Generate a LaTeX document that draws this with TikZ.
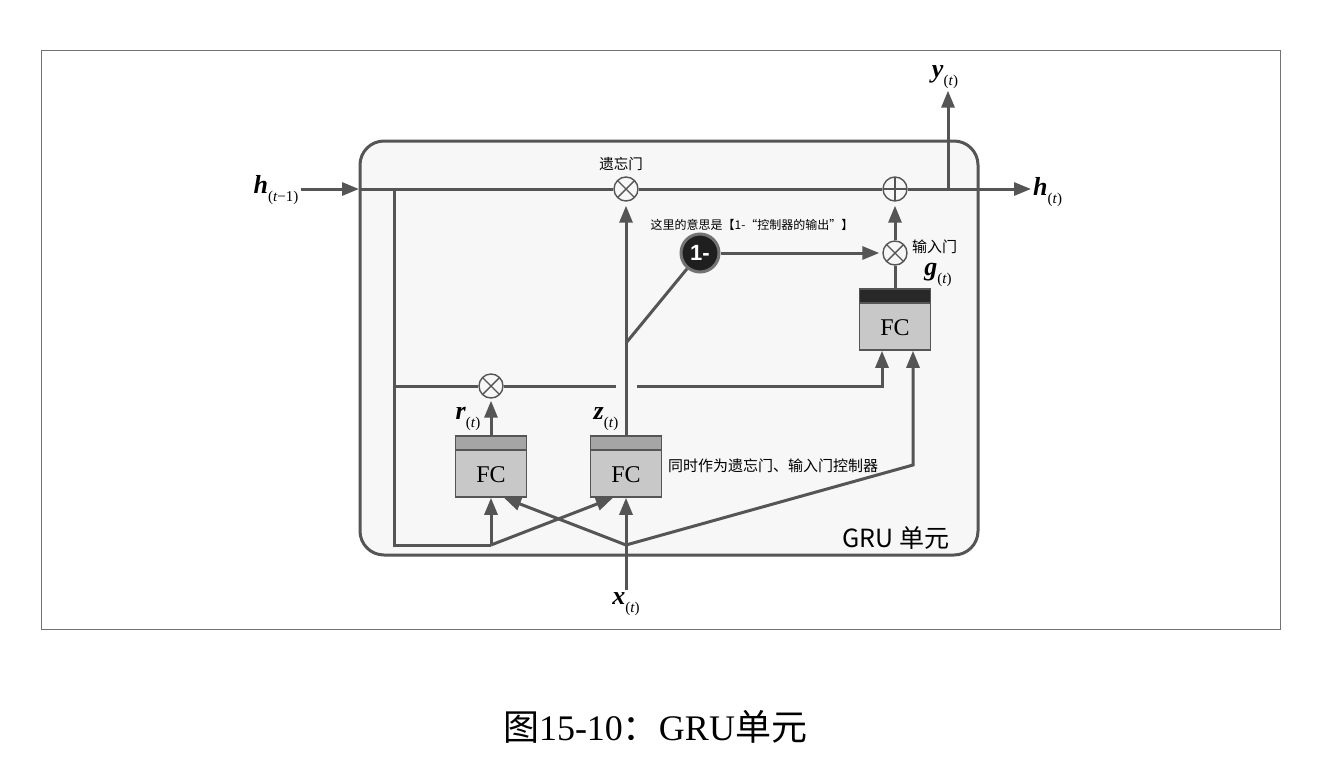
\documentclass[tikz,border=0pt]{standalone}
\usepackage{fontspec}
\setmainfont{Liberation Serif}
\setsansfont{Liberation Sans}
\setmonofont{Liberation Mono}
\newfontfamily\cjk{Noto Sans CJK SC}
\usetikzlibrary{arrows.meta}
\definecolor{wirec}{RGB}{85,85,85}
\definecolor{cellbg}{RGB}{247,247,247}
\definecolor{fcbody}{RGB}{200,200,200}
\definecolor{fchead}{RGB}{165,165,165}
\definecolor{fcdark}{RGB}{40,40,40}
\newcommand{\seqlab}[2]{\textbf{\textit{#1}}\raisebox{-0.3em}{\fontsize{15}{15}\selectfont(#2)}}
\tikzset{wire/.style={draw=wirec, line width=3pt},
  >={Triangle[length=17pt,width=13pt]},
  seq/.style={inner sep=2pt, font=\fontsize{26}{26}\selectfont},
  note/.style={inner sep=0, font=\cjk\fontsize{15}{15}\selectfont},
  fc/.style={draw=wirec, line width=1.6pt, fill=fcbody, minimum width=71pt, inner sep=0,
    text height=46pt, text depth=15pt, font=\fontsize{24}{24}\selectfont,
    path picture={\fill[#1] (path picture bounding box.north west) rectangle ([yshift=-14pt]path picture bounding box.north east);
      \draw[wirec, line width=1.6pt] ([yshift=-14pt]path picture bounding box.north west) -- ([yshift=-14pt]path picture bounding box.north east);}},
  mul/.style={circle, draw=wirec, line width=1.4pt, fill=cellbg, minimum size=24pt, inner sep=0,
    path picture={\draw[wirec, line width=1.4pt] (path picture bounding box.north west) -- (path picture bounding box.south east)
      (path picture bounding box.north east) -- (path picture bounding box.south west);}},
  plus/.style={circle, draw=wirec, line width=1.4pt, fill=cellbg, minimum size=24pt, inner sep=0,
    path picture={\draw[wirec, line width=1.4pt] (path picture bounding box.north) -- (path picture bounding box.south)
      (path picture bounding box.east) -- (path picture bounding box.west);}},
  onem/.style={circle, fill=black!88, draw=black!55, line width=3pt, minimum size=38pt, inner sep=0,
    text=white, font=\sffamily\bfseries\fontsize{22}{22}\selectfont}}

\begin{document}
\begin{tikzpicture}[x=1pt, y=-1pt]
  \useasboundingbox[fill=white] (0,0) rectangle (1344,763);
  \draw[black!55, line width=1pt] (41,50) rectangle (1280,629);

  % GRU cell
  \draw[wirec, line width=3pt, fill=cellbg, rounded corners=24pt] (360,141) rectangle (978,555);
  \node[font=\cjk\fontsize{25}{25}\selectfont, inner sep=0] (cellname) at (896,538) {GRU 单元};

  % gates and FC layers
  \node[mul] (fg) at (626,189) {};
  \node[plus] (add) at (895,189) {};
  \node[mul] (ig) at (895,253) {};
  \node[mul] (rm) at (491,386) {};
  \node[onem] (om) at (700,253) {1-};
  \node[fc=fchead] (rfc) at (491,466.5) {FC};
  \node[fc=fchead] (zfc) at (626,466.5) {FC};
  \node[fc=fcdark] (gfc) at (895,319.5) {FC};

  % labels
  \node[seq] (hprev) at (276,190) {\seqlab{h}{\textit{t}−1}};
  \node[seq, anchor=west] (hnext) at (1031,192) {\seqlab{h}{\textit{t}}};
  \node[seq] (yout) at (945,77) {\seqlab{y}{\textit{t}}};
  \node[seq] (xin) at (626,604) {\seqlab{x}{\textit{t}}};
  \node[seq] (gout) at (938,275) {\seqlab{g}{\textit{t}}};
  \node[seq] (rout) at (468,419) {\seqlab{r}{\textit{t}}};
  \node[seq] (zout) at (606,419) {\seqlab{z}{\textit{t}}};
  \node[note, font=\cjk\fontsize{14.5}{14.5}\selectfont] (fgname) at (621,164) {遗忘门};
  \node[note, anchor=west] (igname) at (912,247) {输入门};
  \node[note, font=\cjk\fontsize{12}{12}\selectfont] (omnote) at (752,225) {这里的意思是【1-“控制器的输出”】};
  \node[note, anchor=west] (znote) at (668,466) {同时作为遗忘门、输入门控制器};

  % junctions
  \coordinate (hin) at (359,189);
  \coordinate (hl) at (394,189);
  \coordinate (hm) at (394,386);
  \coordinate (bl) at (394,545);
  \coordinate (br) at (491,545);
  \coordinate (xj) at (626,545);
  \coordinate (gk) at (913,465);
  \coordinate (zj) at (626,343);
  \coordinate (ybr) at (948,189);
  \coordinate (gapl) at (616,386);
  \coordinate (gapr) at (637,386);
  \coordinate (rk) at (882,386);

  % main state line
  \draw[wire, ->] (hprev.east |- hin) -- (hin);
  \draw[wire] (hin) -- (fg) -- (add);
  \draw[wire, ->] (add) -- (add -| hnext.west);
  \draw[wire, ->] (ybr) -- (ybr |- yout.south);

  % reset path
  \draw[wire] (hl) -- (bl) -- (br);
  \draw[wire] (hm) -- (rm) -- (gapl);
  \draw[wire, ->] (gapr) -- (rk) -- (rk |- gfc.south);
  \draw[wire, ->, shorten >=2pt] (rfc) -- (rm);

  % inputs to FC layers
  \draw[wire, ->] (br) -- (rfc.south);
  \draw[wire, ->] (br) -- ([xshift=-13pt]zfc.south);
  \draw[wire, ->] (xin) -- (zfc.south);
  \draw[wire, ->] (xj) -- ([xshift=13pt]rfc.south);
  \draw[wire, ->] (xj) -- (gk) -- (gk |- gfc.south);

  % update gate
  \draw[wire, ->, shorten >=4pt] (zfc) -- (fg);
  \draw[wire] (zj) -- (om);
  \draw[wire, ->, shorten >=3pt] (om) -- (ig);
  \draw[wire] (gfc) -- (ig);
  \draw[wire, ->, shorten >=4pt] (ig) -- (add);

  % caption
  \node[inner sep=0, font=\fontsize{36}{36}\selectfont] (caption) at (655,727) {{\cjk 图}15-10{\cjk ：}GRU{\cjk 单元}};
\end{tikzpicture}
\end{document}
